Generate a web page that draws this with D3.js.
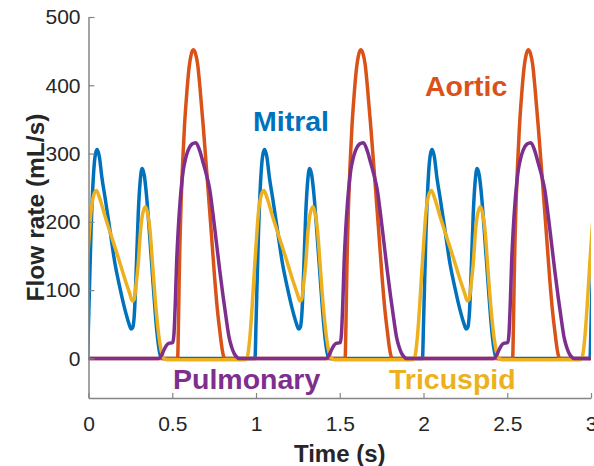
<!DOCTYPE html>
<html>
<head>
<meta charset="utf-8">
<script src="https://cdn.jsdelivr.net/npm/d3@7"></script>
<style>
  body { margin: 0; background: #fff; }
  svg { display: block; font-family: "Liberation Sans", Arial, Helvetica, sans-serif; }
</style>
</head>
<body>
<div id="vis"></div>
<script>
// one heart beat (phase in s, flow in mL/s), repeated every period
const period = 1;
const cycles = [0, 1, 2, 3];

const mitral = [
  [-0.07, 0], [-0.006, 0], [0.0, 50], [0.015, 185], [0.03, 270], [0.042, 300], [0.052, 306],
  [0.065, 295], [0.08, 265], [0.098, 237], [0.128, 188], [0.158, 139], [0.188, 103], [0.218, 71],
  [0.24, 52], [0.255, 43], [0.265, 46], [0.275, 70], [0.285, 130], [0.297, 212], [0.308, 258],
  [0.32, 278], [0.333, 268], [0.347, 237], [0.362, 190], [0.377, 139], [0.392, 88], [0.406, 45],
  [0.42, 15], [0.432, 2], [0.44, 0], [0.92, 0]
];

const aortic = [
  [-0.07, 0], [0.532, 0], [0.537, 50], [0.541, 110], [0.546, 170], [0.553, 230], [0.562, 286],
  [0.573, 340], [0.585, 383], [0.6, 425], [0.613, 445], [0.625, 452], [0.638, 447], [0.652, 430],
  [0.665, 398], [0.685, 340], [0.705, 276], [0.73, 195], [0.754, 115], [0.77, 70], [0.784, 40],
  [0.797, 15], [0.808, 2], [0.815, 0], [0.92, 0]
];

const tricuspid = [
  [-0.07, -2], [-0.062, -2], [-0.05, 4], [-0.037, 30], [-0.022, 80], [-0.01, 128], [0.0, 165],
  [0.015, 215], [0.03, 238], [0.047, 246], [0.065, 236], [0.1, 207], [0.138, 178], [0.18, 146],
  [0.22, 114], [0.245, 96], [0.262, 84], [0.272, 86], [0.285, 110], [0.297, 139], [0.31, 185],
  [0.322, 210], [0.34, 222], [0.355, 210], [0.367, 188], [0.382, 140], [0.397, 90], [0.412, 50],
  [0.426, 22], [0.438, 7], [0.45, 0], [0.47, -2], [0.92, -2]
];

const pulmonary = [
  [-0.07, 0], [0.42, 0], [0.435, 4], [0.45, 12], [0.465, 19], [0.478, 22], [0.503, 23],
  [0.51, 35], [0.518, 80], [0.526, 140], [0.536, 190], [0.546, 227], [0.556, 255], [0.566, 276],
  [0.58, 293], [0.595, 305], [0.618, 314], [0.641, 316], [0.663, 305], [0.685, 286], [0.705, 268],
  [0.724, 247], [0.744, 210], [0.764, 169], [0.784, 128], [0.804, 90], [0.824, 55], [0.84, 30],
  [0.854, 17], [0.87, 7], [0.885, 2], [0.895, 0], [0.92, 0]
];

const xTicks = [0, 0.5, 1, 1.5, 2, 2.5, 3];
const yTicks = [0, 100, 200, 300, 400, 500];

const series = [
  { name: "Mitral", beat: mitral, color: "#0072BD", lx: 253, ly: 131 },
  { name: "Aortic", beat: aortic, color: "#D95319", lx: 425, ly: 96 },
  { name: "Tricuspid", beat: tricuspid, color: "#EDB120", lx: 389, ly: 389 },
  { name: "Pulmonary", beat: pulmonary, color: "#7E2F8E", lx: 173, ly: 389 }
];

const width = 594;
const height = 466;
const margin = { top: 17, right: 3, bottom: 68, left: 88.5 };

const svg = d3.select("#vis").append("svg")
  .attr("width", width)
  .attr("height", height);

const x = d3.scaleLinear().domain([0, 3]).range([margin.left, width - margin.right]);
const y = d3.scaleLinear().domain([-58, 500]).range([height - margin.bottom, margin.top]);

svg.append("clipPath").attr("id", "plot")
  .append("rect")
  .attr("x", x(0)).attr("y", 0)
  .attr("width", x(3) - x(0)).attr("height", height);

const line = d3.line()
  .x(d => x(d[0]))
  .y(d => y(d[1]))
  .curve(d3.curveMonotoneX);

const g = svg.append("g").attr("clip-path", "url(#plot)");

series.forEach(s => {
  const pts = [];
  cycles.forEach(k => s.beat.forEach(p => pts.push([p[0] + k * period, p[1]])));
  g.append("path")
    .datum(pts)
    .attr("fill", "none")
    .attr("stroke", s.color)
    .attr("stroke-width", 3.5)
    .attr("stroke-linejoin", "round")
    .attr("d", line);
});

// axes
const xAxis = svg.append("g")
  .attr("transform", `translate(0,${y(-58)})`)
  .call(d3.axisBottom(x).tickValues(xTicks).tickFormat(d3.format("~g"))
    .tickSizeInner(-5).tickSizeOuter(0).tickPadding(18));

const yAxis = svg.append("g")
  .attr("transform", `translate(${x(0)},0)`)
  .call(d3.axisLeft(y).tickValues(yTicks)
    .tickSizeInner(-6).tickSizeOuter(0).tickPadding(8));

[xAxis, yAxis].forEach(a => {
  a.select(".domain").attr("stroke", "#858585").attr("stroke-width", 1.5);
  a.selectAll(".tick line").attr("stroke", "#858585").attr("stroke-width", 1.2);
  a.selectAll(".tick text")
    .attr("fill", "#262626")
    .style("font-size", "21px")
    .style("font-family", "'Liberation Sans', Arial, sans-serif");
});

// axis titles
svg.append("text")
  .attr("x", (x(0) + x(3)) / 2)
  .attr("y", 462)
  .attr("text-anchor", "middle")
  .attr("font-weight", "bold")
  .attr("font-size", "24px")
  .attr("fill", "#262626")
  .text("Time (s)");

svg.append("text")
  .attr("transform", `translate(43.5,${(y(-58) + y(500)) / 2}) rotate(-90)`)
  .attr("text-anchor", "middle")
  .attr("font-weight", "bold")
  .attr("font-size", "24.5px")
  .attr("fill", "#262626")
  .text("Flow rate (mL/s)");

// series labels
svg.selectAll(".lbl")
  .data(series)
  .join("text")
  .attr("class", "lbl")
  .attr("x", d => d.lx)
  .attr("y", d => d.ly)
  .attr("font-weight", "bold")
  .attr("font-size", "28.5px")
  .attr("fill", d => d.color)
  .text(d => d.name);
</script>
</body>
</html>
